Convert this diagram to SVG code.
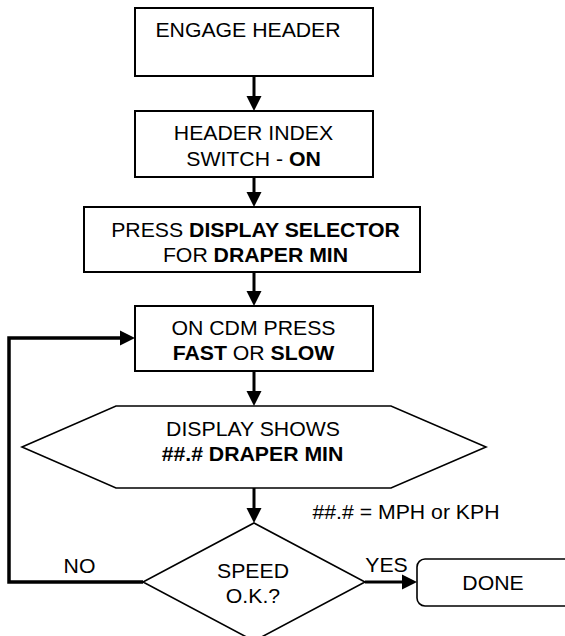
<svg xmlns="http://www.w3.org/2000/svg" width="565" height="636" viewBox="0 0 565 636">
<style>
.box{fill:#fff;stroke:#000;stroke-width:2}
.shape{fill:#fff;stroke:#000;stroke-width:1.6}
.t{font-family:"Liberation Sans",Arial,sans-serif;font-size:19.5px;fill:#000;text-anchor:middle}
.b{font-weight:bold}
.c{fill:none;stroke:#000;stroke-width:3}
.loop{fill:none;stroke:#000;stroke-width:3.5}
</style>
<defs>
<marker id="ah" markerUnits="userSpaceOnUse" markerWidth="15" markerHeight="15" refX="0" refY="7.5" orient="auto" overflow="visible">
<path d="M0,0 L15,7.5 L0,15 z" fill="#000"/>
</marker>
</defs>
<g id="connectors">
<line class="c" x1="254" y1="76" x2="254" y2="96" marker-end="url(#ah)"/>
<line class="c" x1="254" y1="177" x2="254" y2="192" marker-end="url(#ah)"/>
<line class="c" x1="254" y1="272" x2="254" y2="291" marker-end="url(#ah)"/>
<line class="c" x1="254" y1="371" x2="254" y2="391" marker-end="url(#ah)"/>
<line class="c" x1="254" y1="488" x2="254" y2="508" marker-end="url(#ah)"/>
<polyline class="loop" points="143,582 9,582 9,338 120,338" marker-end="url(#ah)"/>
<line class="c" x1="365" y1="582" x2="402" y2="582" marker-end="url(#ah)"/>
<text class="t" transform="translate(79.5,573) scale(1.09,1)">NO</text>
<text class="t" transform="translate(386.5,571.5) scale(1.09,1)">YES</text>
<text class="t" transform="translate(406,518.5) scale(1.09,1)">##.# = MPH or KPH</text>
</g>
<g id="engage-header">
<rect class="box" x="135" y="8" width="238" height="68"/>
<text class="t" transform="translate(248,37) scale(1.09,1)">ENGAGE HEADER</text>
</g>
<g id="header-index">
<rect class="box" x="135" y="111" width="238" height="66"/>
<text class="t" transform="translate(253.5,140) scale(1.09,1)">HEADER INDEX</text>
<text class="t" transform="translate(253.5,165.5) scale(1.09,1)">SWITCH - <tspan class="b">ON</tspan></text>
</g>
<g id="press-display">
<rect class="box" x="84" y="207" width="336" height="65"/>
<text class="t" transform="translate(255.5,237.3) scale(1.09,1)">PRESS <tspan class="b">DISPLAY SELECTOR</tspan></text>
<text class="t" transform="translate(255.5,262.3) scale(1.09,1)">FOR <tspan class="b">DRAPER MIN</tspan></text>
</g>
<g id="cdm-press">
<rect class="box" x="135" y="306" width="238" height="65"/>
<text class="t" transform="translate(253.5,335.3) scale(1.09,1)">ON CDM PRESS</text>
<text class="t" transform="translate(253.5,360) scale(1.09,1)"><tspan class="b">FAST</tspan> OR <tspan class="b">SLOW</tspan></text>
</g>
<g id="display-shows">
<polygon class="shape" points="22,447 116,406 391,406 486,447 391,488 116,488"/>
<text class="t" transform="translate(253,435.7) scale(1.09,1)">DISPLAY SHOWS</text>
<text class="t b" transform="translate(252.5,461) scale(1.09,1)">##.# DRAPER MIN</text>
</g>
<g id="speed-ok">
<polygon class="shape" points="254,523 365,582 254,641 143,582"/>
<text class="t" transform="translate(253,577.7) scale(1.09,1)">SPEED</text>
<text class="t" transform="translate(253,602.7) scale(1.09,1)">O.K.?</text>
</g>
<g id="done">
<rect class="shape" x="417" y="559" width="160" height="47" rx="8"/>
<text class="t" transform="translate(493,590) scale(1.09,1)">DONE</text>
</g>
</svg>
